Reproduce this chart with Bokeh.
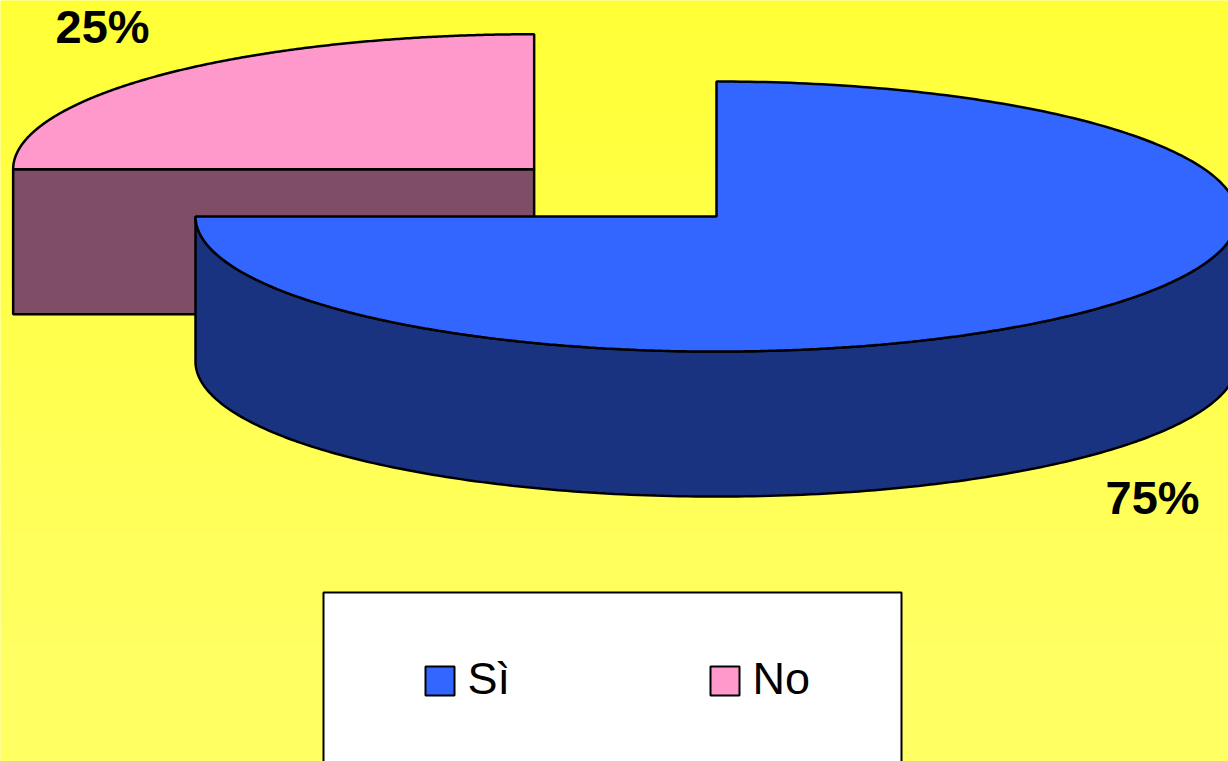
import numpy as np
from bokeh.plotting import figure
from bokeh.models import Range1d
from bokeh.core.properties import value
from bokeh.embed import file_html
from bokeh.resources import INLINE

# ---- data ----
categories = ["Sì", "No"]
values = [75, 25]
top_colors = ["#3366FF", "#FF99CC"]
side_colors = ["#1A3380", "#804D66"]
explode = [0.0, 0.495]

# ---- layout (reference pixel coordinates) ----
W, H = 1228, 761
CX, CY = 716.0, 216.0
RX, RY = 521.0, 135.0
DEPTH = 145.0
TEXT_DY = 19
label_pos = [(1105, 516), (55, 45)]      # Sì, No (left, baseline)
legend_sq_x = [425, 710]
legend_txt_x = [467, 752]

p = figure(width=W, height=H, x_range=Range1d(0, W), y_range=Range1d(H, 0),
           output_backend="svg", toolbar_location=None, min_border=0,
           x_axis_type=None, y_axis_type=None)
p.grid.visible = False
p.outline_line_color = None
p.background_fill_color = "#FFFF4D"
p.border_fill_color = "#FFFF4D"

# background gradient
ys = np.arange(0, 770, 4)
def yel(y):
    g = 51 + 51 * min(y / 650.0, 1.0)
    return "#FFFF%02X" % int(round(g))
p.quad(left=0, right=1240, top=ys, bottom=ys + 4, fill_color=[yel(y) for y in ys], line_color=None)

def pt(cx, cy, a_deg, dz=0.0):
    a = np.radians(a_deg)
    return cx + RX * np.cos(a), cy - RY * np.sin(a) + dz

# slices
total = float(sum(values))
slices = []
a0 = 90.0
for i, v in enumerate(values):
    sweep = 360.0 * v / total
    a_start, a_end = a0, a0 - sweep
    mid = np.radians((a_start + a_end) / 2)
    cx = CX + explode[i] * RX * np.cos(mid)
    cy = CY - explode[i] * RY * np.sin(mid)
    slices.append(dict(i=i, a_start=a_start, a_end=a_end, cx=cx, cy=cy, midsin=np.sin(mid)))
    a0 = a_end

slices.sort(key=lambda s: -s["midsin"])  # back first

LW = 2.5
for s in slices:
    i, cx, cy = s["i"], s["cx"], s["cy"]
    lo, hi = s["a_end"], s["a_start"]
    # radial faces
    for ang, nrm in ((hi, hi + 90), (lo, lo - 90)):
        if np.sin(np.radians(nrm)) < -1e-6:
            ex, ey = pt(cx, cy, ang)
            p.patch([cx, ex, ex, cx], [cy, ey, ey + DEPTH, cy + DEPTH],
                    fill_color=side_colors[i], line_color="black", line_width=LW)
    # outer wall (front half only)
    for k in range(-2, 2):
        f0, f1 = -180 + 360 * k, 0 + 360 * k
        w0, w1 = max(lo, f0), min(hi, f1)
        if w1 - w0 > 0.01:
            angs = np.linspace(w0, w1, 200)
            xt, yt = pt(cx, cy, angs)
            xs = np.concatenate([xt, xt[::-1]])
            yv = np.concatenate([yt, (yt + DEPTH)[::-1]])
            p.patch(xs, yv, fill_color=side_colors[i], line_color="black", line_width=LW)
    # top face
    angs = np.linspace(hi, lo, 300)
    xt, yt = pt(cx, cy, angs)
    p.patch(np.concatenate([[cx], xt, [cx]]), np.concatenate([[cy], yt, [cy]]),
            fill_color=top_colors[i], line_color="black", line_width=LW)

# percentage labels
for i, v in enumerate(values):
    p.text(x=[label_pos[i][0]], y=[label_pos[i][1] - TEXT_DY], text=[f"{v}%"],
           text_font=value("Liberation Sans"), text_font_style="bold",
           text_font_size="47px", text_color="black",
           text_align="left", text_baseline="alphabetic")

# legend box
p.quad(left=[323], right=[901], top=[592], bottom=[790], fill_color="white",
       line_color="black", line_width=2)
for i, c in enumerate(categories):
    p.quad(left=[legend_sq_x[i]], right=[legend_sq_x[i] + 29], top=[666], bottom=[695],
           fill_color=top_colors[i], line_color="black", line_width=2)
    p.text(x=[legend_txt_x[i]], y=[697 - TEXT_DY], text=[c],
           text_font=value("Liberation Sans"), text_font_size="45px", text_color="black",
           text_align="left", text_baseline="alphabetic")

open("out.html", "w").write(file_html(p, INLINE))
